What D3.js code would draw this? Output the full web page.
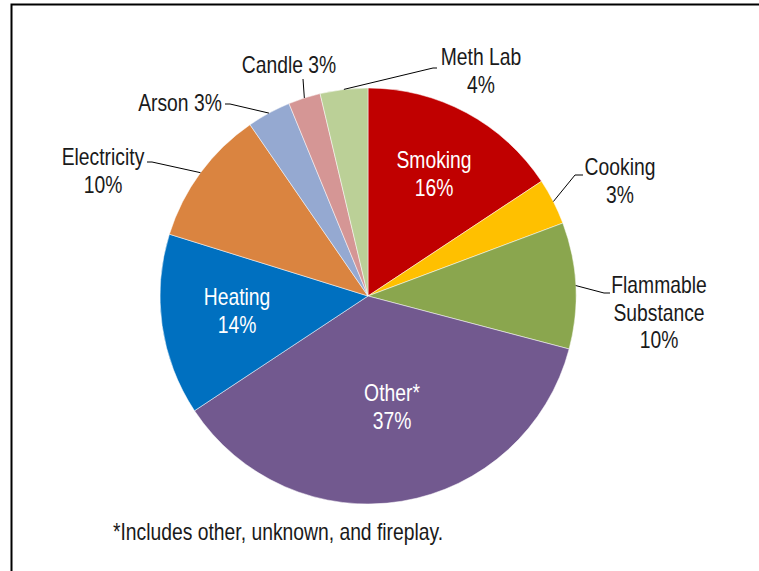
<!DOCTYPE html>
<html>
<head>
<meta charset="utf-8">
<script src="https://cdn.jsdelivr.net/npm/d3@7"></script>
<style>
  body { margin: 0; background: #fff; }
  text { font-family: "Liberation Sans Narrow", "Arial Narrow", "Liberation Sans", sans-serif; font-size: 23px; }
</style>
</head>
<body>
<svg width="759" height="571"></svg>
<script>
const categories = ['Smoking', 'Cooking', 'Flammable Substance', 'Other*', 'Heating', 'Electricity', 'Arson', 'Candle', 'Meth Lab'];
const shares = [15.7, 3.6, 9.8, 36.6, 14.1, 10.6, 3.4, 2.5, 3.7];
const percentLabels = ['16%', '3%', '10%', '37%', '14%', '10%', '3%', '3%', '4%'];
const colors = ['#c00000', '#ffc000', '#8aa64e', '#72598f', '#0070c0', '#da8440', '#95a9d1', '#d59695', '#bbd097'];
const footnote = '*Includes other, unknown, and fireplay.';

const width = 759,
      height = 571,
      cx = 368,
      cy = 296,
      radius = 208,
      narrow = 0.84;

// label layout: lines of text, anchor position, inside/outside, leader elbow
const labelLayout = [
  { lines: ['Smoking', '16%'], x: 434, y: 160, inside: true },
  { lines: ['Cooking', '3%'], x: 620, y: 167, leader: [[575, 175], [583, 175]] },
  { lines: ['Flammable', 'Substance', '10%'], x: 659, y: 285, leader: [[604, 293], [610, 293]] },
  { lines: ['Other*', '37%'], x: 392, y: 393, inside: true },
  { lines: ['Heating', '14%'], x: 237, y: 297, inside: true },
  { lines: ['Electricity', '10%'], x: 103, y: 157, leader: [[152, 162], [147, 162]] },
  { lines: ['Arson 3%'], x: 180, y: 103, leader: [[230, 104], [225, 104]] },
  { lines: ['Candle 3%'], x: 289, y: 65, leader: [[303, 79]] },
  { lines: ['Meth Lab', '4%'], x: 481, y: 57, leader: [[433, 68], [437, 68]] }
];

const data = categories.map((c, i) => ({ name: c, value: shares[i], pct: percentLabels[i], color: colors[i], layout: labelLayout[i] }));

const svg = d3.select('svg')
    .attr('width', width)
    .attr('height', height);

// outer frame (right and bottom edges fall outside the picture)
svg.append('path')
    .attr('d', `M11.5,${height + 5}V4.5H${width + 5}`)
    .attr('fill', 'none')
    .attr('stroke', '#000')
    .attr('stroke-width', 2);

const pie = d3.pie()
    .value((d) => d.value)
    .sort(null);

const arc = d3.arc()
    .innerRadius(0)
    .outerRadius(radius);

const edgeArc = d3.arc()
    .innerRadius(radius)
    .outerRadius(radius);

const chart = svg.append('g')
    .attr('transform', `translate(${cx}, ${cy})`);

const arcs = pie(data);

chart.selectAll('.slice')
  .data(arcs)
  .enter()
  .append('path')
    .classed('slice', true)
    .attr('d', arc)
    .attr('fill', (d) => d.data.color)
    .attr('stroke', '#fff')
    .attr('stroke-width', 0.5);

// leader lines
arcs.filter((d) => !d.data.layout.inside).forEach((d) => {
  const [ex, ey] = edgeArc.centroid(d);
  const pts = [[cx + ex, cy + ey]].concat(d.data.layout.leader);
  svg.append('path')
    .attr('d', d3.line()(pts))
    .attr('fill', 'none')
    .attr('stroke', '#000')
    .attr('stroke-width', 1);
});

// labels (squeezed horizontally to mimic a narrow face)
data.forEach((d) => {
  const t = svg.append('g')
      .attr('transform', `translate(${d.layout.x}, ${d.layout.y}) scale(${narrow}, 1)`)
    .append('text')
      .attr('text-anchor', 'middle')
      .attr('fill', d.layout.inside ? '#fff' : '#1a1a1a');
  d.layout.lines.forEach((line, i) => {
    t.append('tspan')
      .attr('x', 0)
      .attr('y', i * 27.5)
      .attr('dy', '0.35em')
      .text(line);
  });
});

svg.append('g')
    .attr('transform', `translate(113, 532) scale(${narrow}, 1)`)
  .append('text')
    .attr('dy', '0.35em')
    .attr('fill', '#1a1a1a')
    .text(footnote);
</script>
</body>
</html>
